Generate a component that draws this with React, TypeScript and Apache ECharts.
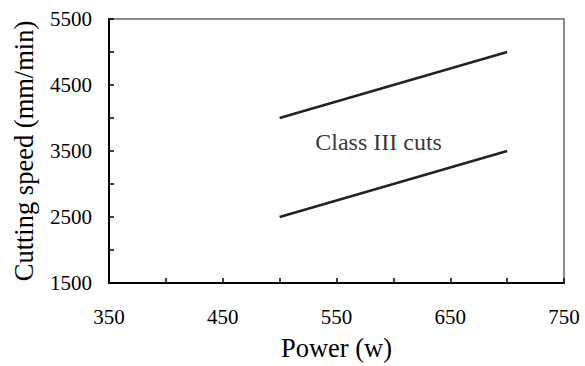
import React, { useEffect, useRef } from "react";
import * as echarts from "echarts";

const xTicks = [350, 450, 550, 650, 750];
const upperLine: [number, number][] = [[500, 4000], [700, 5000]];
const lowerLine: [number, number][] = [[500, 2500], [700, 3500]];
const annotation = { text: "Class III cuts", x: 587, y: 3633 };
const FONT = "Liberation Serif";

export default function App() {
  const ref = useRef<HTMLDivElement>(null);
  useEffect(() => {
    if (!ref.current) return;
    const chart = echarts.init(ref.current, null, { renderer: "svg" });
    chart.setOption({
      animation: false,
      backgroundColor: "#ffffff",
      grid: {
        left: 109,
        right: 21,
        top: 19,
        bottom: 77,
        show: true,
        borderColor: "#8c8c8c",
        borderWidth: 2,
        containLabel: false,
      },
      xAxis: {
        type: "value",
        min: 350,
        max: 750,
        interval: 50,
        name: "Power (w)",
        nameLocation: "middle",
        nameGap: 51,
        nameTextStyle: { fontFamily: FONT, fontSize: 26.5, color: "#000" },
        axisLine: { show: true, lineStyle: { color: "#000", width: 2 } },
        axisTick: { show: true, inside: true, length: 5, lineStyle: { color: "#000", width: 1.5 } },
        axisLabel: {
          margin: 23,
          fontFamily: FONT,
          fontSize: 21,
          color: "#000",
          formatter: (v: number) => (xTicks.includes(v) ? String(v) : ""),
        },
        splitLine: { show: false },
      },
      yAxis: {
        type: "value",
        min: 1500,
        max: 5500,
        interval: 500,
        name: "Cutting speed (mm/min)",
        nameLocation: "middle",
        nameGap: 72,
        nameTextStyle: { fontFamily: FONT, fontSize: 26.5, color: "#000" },
        axisLine: { show: true, lineStyle: { color: "#000", width: 2 } },
        axisTick: { show: true, inside: true, length: 5, lineStyle: { color: "#000", width: 1.5 } },
        axisLabel: {
          margin: 17,
          fontFamily: FONT,
          fontSize: 21,
          color: "#000",
          formatter: (v: number) => ((v - 1500) % 1000 === 0 ? String(v) : ""),
        },
        splitLine: { show: false },
      },
      series: [
        {
          type: "line",
          data: upperLine,
          showSymbol: false,
          lineStyle: { color: "#222222", width: 2.5 },
        },
        {
          type: "line",
          data: lowerLine,
          showSymbol: false,
          lineStyle: { color: "#222222", width: 2.5 },
        },
        {
          type: "scatter",
          data: [[annotation.x, annotation.y]],
          symbolSize: 0,
          label: {
            show: true,
            position: "inside",
            formatter: annotation.text,
            fontFamily: FONT,
            fontSize: 24,
            color: "#000",
          },
        },
      ],
    });
    return () => chart.dispose();
  }, []);
  return <div ref={ref} style={{ width: 585, height: 366, position: "absolute", left: 0, top: 0 }} />;
}
